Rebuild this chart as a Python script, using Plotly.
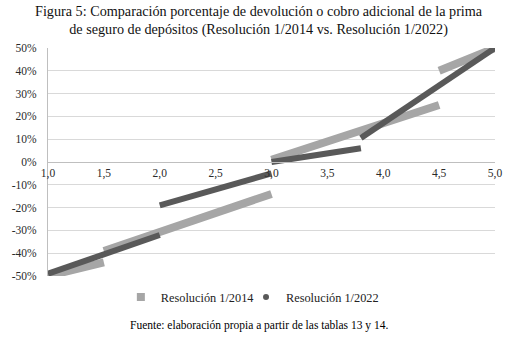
import plotly.graph_objects as go

# Data (percentages)
res2014_x = [1.0, 1.5, None, 1.5, 3.0, None, 3.0, 4.5, None, 4.5, 5.0]
res2014_y = [-50, -44, None, -39, -14, None, 1, 25, None, 40, 50]
res2022_x = [1.0, 2.0, None, 2.0, 3.0, None, 3.0, 3.8, None, 3.8, 5.0]
res2022_y = [-49, -32, None, -19, -5, None, 0, 6, None, 10.5, 50]

x_ticks = [1.0, 1.5, 2.0, 2.5, 3.0, 3.5, 4.0, 4.5, 5.0]
x_labels = ["1,0", "1,5", "2,0", "2,5", "3,0", "3,5", "4,0", "4,5", "5,0"]
y_ticks = [-50, -40, -30, -20, -10, 0, 10, 20, 30, 40, 50]
y_labels = ["-50%", "-40%", "-30%", "-20%", "-10%", "0%", "10%", "20%", "30%", "40%", "50%"]

names = ["Resolución 1/2014", "Resolución 1/2022"]
title_text = ("Figura 5: Comparación porcentaje de devolución o cobro adicional de la prima<br>"
              "de seguro de depósitos (Resolución 1/2014 vs. Resolución 1/2022)")
source_text = "Fuente: elaboración propia a partir de las tablas 13 y 14."

light = "#a6a6a6"
dark = "#595959"
serif = "Liberation Serif, Times New Roman, serif"

fig = go.Figure()
fig.add_trace(go.Scatter(x=res2014_x, y=res2014_y, mode="lines",
                         line=dict(color=light, width=8), showlegend=False,
                         cliponaxis=False, hoverinfo="skip"))
fig.add_trace(go.Scatter(x=res2022_x, y=res2022_y, mode="lines",
                         line=dict(color=dark, width=6), showlegend=False,
                         cliponaxis=False, hoverinfo="skip"))
# legend entries
fig.add_trace(go.Scatter(x=[None], y=[None], mode="markers", name=names[0],
                         marker=dict(symbol="square", size=8, color=light),
                         legend="legend"))
fig.add_trace(go.Scatter(x=[None], y=[None], mode="markers", name=names[1],
                         marker=dict(symbol="circle", size=6, color=dark),
                         legend="legend2"))

legend_common = dict(orientation="h", y=-0.092, yanchor="middle", xanchor="left",
                     font=dict(family=serif, size=12.3, color="#222222"),
                     itemwidth=30, bgcolor="rgba(0,0,0,0)")

fig.update_layout(
    width=514, height=338,
    margin=dict(l=37, r=12, t=48, b=62),
    paper_bgcolor="white", plot_bgcolor="white",
    font=dict(family=serif, size=11.5, color="#333333"),
    xaxis=dict(range=[1, 5], tickvals=x_ticks, ticktext=x_labels,
               showgrid=False, zeroline=False, anchor="free", position=0.5,
               showline=True, linecolor="#bfbfbf", linewidth=1,
               ticks="", tickfont=dict(size=11.5, color="#2a2a2a")),
    yaxis=dict(range=[-50, 50], tickvals=y_ticks, ticktext=y_labels,
               showgrid=True, gridcolor="#d9d9d9", gridwidth=1,
               zeroline=False, showline=True, linecolor="#bfbfbf",
               ticks="", ticklabelstandoff=8, domain=[0, 1],
               tickfont=dict(size=11.5, color="#2a2a2a")),
    legend=dict(x=0.163, **legend_common),
    legend2=dict(x=0.443, **legend_common),
    annotations=[
        dict(text=title_text, x=0.471, xref="paper", y=1.1206, yref="paper",
             xanchor="center", yanchor="middle", showarrow=False,
             font=dict(family=serif, size=14.2, color="#111111")),
        dict(text=source_text, x=0.471, xref="paper", y=-0.219, yref="paper",
             xanchor="center", yanchor="middle", showarrow=False,
             font=dict(family=serif, size=11.5, color="#000000")),
    ],
)

fig.write_html("out.html")
